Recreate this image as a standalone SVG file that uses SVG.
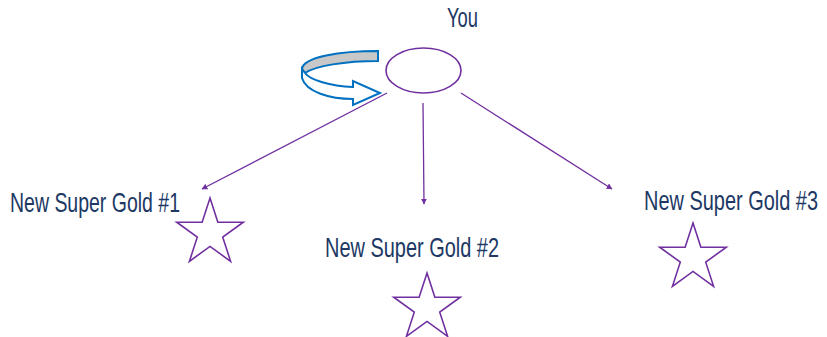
<svg xmlns="http://www.w3.org/2000/svg" width="827" height="337" viewBox="0 0 827 337">
<style>
.lbl{font-family:"Liberation Sans",Arial,sans-serif;font-size:20px;fill:#203864}
.star{fill:none;stroke:#7030A0;stroke-width:1.6;stroke-linejoin:miter}
.edge{stroke:#7030A0;stroke-width:1.3;fill:none}
.rib{stroke:#0070C0;stroke-width:2;stroke-linejoin:miter}
</style>
<defs>
<marker id="ah" viewBox="0 0 10 10" refX="9" refY="5" markerWidth="6" markerHeight="6" markerUnits="userSpaceOnUse" orient="auto">
<path d="M0,0 L10,5 L0,10 Z" fill="#7030A0"/>
</marker>
<polygon id="starShape" points="0,-35 7.86,-10.82 33.29,-10.82 12.72,4.13 20.57,28.32 0,13.37 -20.57,28.32 -12.72,4.13 -33.29,-10.82 -7.86,-10.82"/>
</defs>
<rect width="827" height="337" fill="#ffffff"/>
<g id="connectors">
<line class="edge" x1="387" y1="93" x2="202" y2="189" marker-end="url(#ah)"/>
<line class="edge" x1="423" y1="103" x2="424" y2="204" marker-end="url(#ah)"/>
<line class="edge" x1="461" y1="93" x2="612" y2="189" marker-end="url(#ah)"/>
</g>
<g id="you">
<ellipse cx="423.5" cy="70.5" rx="37.5" ry="22.5" fill="#ffffff" stroke="#7030A0" stroke-width="1.6"/>
<text class="lbl" transform="translate(447,27) scale(1,1.35)" textLength="31" lengthAdjust="spacingAndGlyphs">You</text>
</g>
<g id="loop">
<path class="rib" fill="#C8C8C8" d="M378,51 C340,51 303,57 302,69 L305,73 C315,66 345,61 378,61 Z"/>
<path class="rib" fill="#ffffff" d="M302,69 L302,78 C306,92 330,99 353,99 L353,105 L380,93 L353,81 L353,87 C330,86 310,80 305,73 Z"/>
</g>
<g id="gold1">
<text class="lbl" transform="translate(10,212) scale(1,1.35)" textLength="170" lengthAdjust="spacingAndGlyphs">New Super Gold #1</text>
<use href="#starShape" class="star" transform="translate(210,233)"/>
</g>
<g id="gold2">
<text class="lbl" transform="translate(325,257) scale(1,1.35)" textLength="174" lengthAdjust="spacingAndGlyphs">New Super Gold #2</text>
<use href="#starShape" class="star" transform="translate(427,308)"/>
</g>
<g id="gold3">
<text class="lbl" transform="translate(644,210) scale(1,1.35)" textLength="174" lengthAdjust="spacingAndGlyphs">New Super Gold #3</text>
<use href="#starShape" class="star" transform="translate(693,258)"/>
</g>
</svg>
